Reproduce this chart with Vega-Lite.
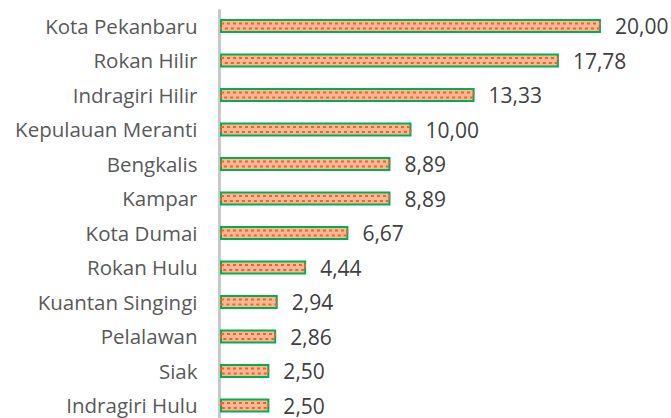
{
  "$schema": "https://vega.github.io/schema/vega-lite/v6.json",
  "autosize": "none",
  "width": 450,
  "height": 414,
  "padding": {"left": 221, "top": 8.75, "right": 0, "bottom": 0},
  "background": "white",
  "config": {
    "view": {"stroke": null},
    "locale": {"number": {"decimal": ",", "thousands": ".", "grouping": [3], "currency": ["", ""]}}
  },
  "data": {
    "values": [
      {"kab": "Kota Pekanbaru", "nilai": 20.00},
      {"kab": "Rokan Hilir", "nilai": 17.78},
      {"kab": "Indragiri Hilir", "nilai": 13.33},
      {"kab": "Kepulauan Meranti", "nilai": 10.00},
      {"kab": "Bengkalis", "nilai": 8.89},
      {"kab": "Kampar", "nilai": 8.89},
      {"kab": "Kota Dumai", "nilai": 6.67},
      {"kab": "Rokan Hulu", "nilai": 4.44},
      {"kab": "Kuantan Singingi", "nilai": 2.94},
      {"kab": "Pelalawan", "nilai": 2.86},
      {"kab": "Siak", "nilai": 2.50},
      {"kab": "Indragiri Hulu", "nilai": 2.50}
    ]
  },
  "encoding": {
    "y": {
      "field": "kab", "type": "nominal", "sort": null,
      "scale": {"paddingInner": 0.6, "paddingOuter": 0.3},
      "axis": {
        "title": null, "ticks": false, "domainColor": "#c8c8c8", "domainWidth": 3,
        "offset": 2, "labelPadding": 22, "labelFont": "Open Sans", "labelFontSize": 20.5,
        "labelColor": "#595959", "labelLimit": 300, "labelOffset": 1.5
      }
    },
    "x": {
      "field": "nilai", "type": "quantitative",
      "scale": {"domain": [0, 23.75], "nice": false},
      "axis": null
    }
  },
  "layer": [
    {
      "mark": {"type": "bar", "size": 12, "fill": "#F9B994", "stroke": "#00B050", "strokeWidth": 2}
    },
    {
      "mark": {"type": "bar", "size": 5, "fill": null, "stroke": "#FF5A2A", "strokeWidth": 1.8, "strokeDash": [3, 3]}
    },
    {
      "mark": {"type": "text", "align": "left", "baseline": "middle", "dx": 15, "dy": 2, "font": "Open Sans", "fontSize": 21, "color": "#404040"},
      "encoding": {"text": {"field": "nilai", "type": "quantitative", "format": ".2f"}}
    }
  ]
}
